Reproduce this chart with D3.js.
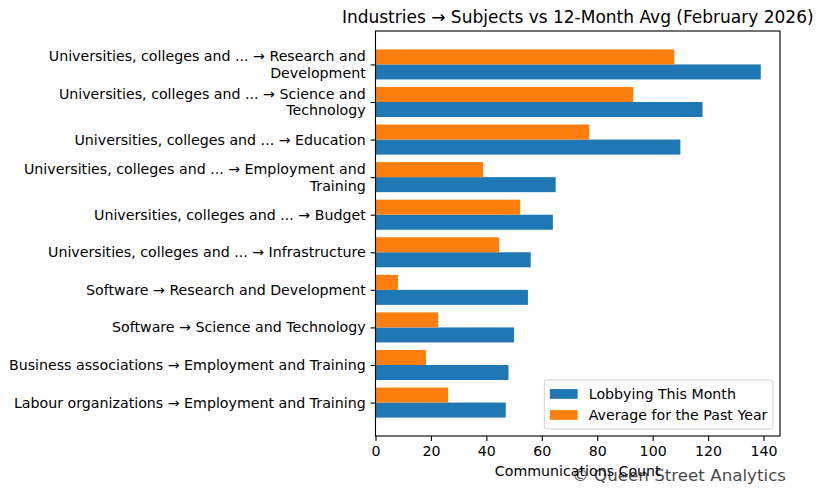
<!DOCTYPE html>
<html>
<head>
<meta charset="utf-8">
<script src="https://cdn.jsdelivr.net/npm/d3@7"></script>
<style>
  body { margin: 0; background: #fff; }
  text { font-family: "DejaVu Sans", sans-serif; }
</style>
</head>
<body>
<div id="chart"></div>
<script>
// Data
const categories = [
    'Universities, colleges and ... → Research and\nDevelopment',
    'Universities, colleges and ... → Science and\nTechnology',
    'Universities, colleges and ... → Education',
    'Universities, colleges and ... → Employment and\nTraining',
    'Universities, colleges and ... → Budget',
    'Universities, colleges and ... → Infrastructure',
    'Software → Research and Development',
    'Software → Science and Technology',
    'Business associations → Employment and Training',
    'Labour organizations → Employment and Training'
];
const thisMonth = [139, 118, 110, 65, 64, 56, 55, 50, 48, 47];
const pastYear = [107.8, 93.0, 77.1, 38.8, 52.2, 44.6, 8.1, 22.6, 18.2, 26.2];
const xTicks = [0, 20, 40, 60, 80, 100, 120, 140];
const seriesNames = ['Lobbying This Month', 'Average for the Past Year'];
const colors = ['#1f77b4', '#ff7f0e'];

const width = 823, height = 496;
const margin = { top: 31, right: 43, bottom: 60, left: 375.5 };
const fs = 14.2;

const svg = d3.select('#chart').append('svg')
    .attr('width', width)
    .attr('height', height);

const plotW = width - margin.left - margin.right;
const plotH = height - margin.top - margin.bottom;

const g = svg.append('g')
    .attr('transform', `translate(${margin.left},${margin.top})`);

// x domain with matplotlib-style 5% margin
const xMax = d3.max(thisMonth.concat(pastYear)) * 1.05;
const x = d3.scaleLinear().domain([0, xMax]).range([0, plotW]);

// bars span i-0.4 .. i+0.4, plus 5% margin
const n = categories.length;
const span = (n - 1) + 0.8;
const y = d3.scaleLinear()
    .domain([-0.4 - span * 0.05, (n - 1) + 0.4 + span * 0.05])
    .range([0, plotH]);

const barH = y(0.4) - y(0);

// Blue: this month (below tick)
g.selectAll('.bar-month')
    .data(thisMonth)
    .enter().append('rect')
    .attr('class', 'bar-month')
    .attr('x', x(0))
    .attr('y', (d, i) => y(i))
    .attr('width', d => x(d) - x(0))
    .attr('height', barH)
    .attr('fill', colors[0]);

// Orange: past year average (above tick)
g.selectAll('.bar-year')
    .data(pastYear)
    .enter().append('rect')
    .attr('class', 'bar-year')
    .attr('x', x(0))
    .attr('y', (d, i) => y(i - 0.4))
    .attr('width', d => x(d) - x(0))
    .attr('height', barH)
    .attr('fill', colors[1]);

// Axes
const xAxis = g.append('g')
    .attr('transform', `translate(0,${plotH})`)
    .call(d3.axisBottom(x).tickValues(xTicks).tickSize(4.9).tickPadding(4.9).tickFormat(d3.format('d')));

const yAxis = g.append('g')
    .call(d3.axisLeft(y).tickValues(d3.range(n)).tickSize(4.9).tickPadding(4.9).tickFormat(i => categories[i]));

[xAxis, yAxis].forEach(ax => {
    ax.select('.domain').remove();
    ax.selectAll('line').attr('stroke', '#000').attr('stroke-width', 1.1);
    ax.selectAll('text').attr('fill', '#000').style('font-size', fs + 'px').style('font-family', '"DejaVu Sans", sans-serif');
});

// Split multi-line tick labels
yAxis.selectAll('text').each(function (i) {
    const lines = categories[i].split('\n');
    if (lines.length < 2) return;
    const t = d3.select(this);
    const xPos = t.attr('x');
    t.text(null).attr('dy', null);
    const lh = 16.8;
    lines.forEach((line, k) => {
        t.append('tspan')
            .attr('x', xPos)
            .attr('y', (k - (lines.length - 1) / 2) * lh)
            .attr('dy', '0.32em')
            .text(line);
    });
});

// Spines
g.append('rect')
    .attr('width', plotW)
    .attr('height', plotH)
    .attr('fill', 'none')
    .attr('stroke', '#000')
    .attr('stroke-width', 1.1);

// Title
svg.append('text')
    .attr('x', margin.left + plotW / 2)
    .attr('y', 23)
    .attr('text-anchor', 'middle')
    .style('font-size', '17px')
    .text('Industries → Subjects vs 12-Month Avg (February 2026)');

// X label
svg.append('text')
    .attr('x', margin.left + plotW / 2)
    .attr('y', 476)
    .attr('text-anchor', 'middle')
    .style('font-size', fs + 'px')
    .text('Communications Count');

// Watermark (overlaps the axis label, as in the original)
svg.append('text')
    .attr('x', 786)
    .attr('y', 481)
    .attr('text-anchor', 'end')
    .attr('fill', '#000')
    .attr('opacity', 0.72)
    .style('font-size', '16.7px')
    .text('© Queen Street Analytics');

// Legend (lower right)
const legend = g.append('g');
const legendItems = legend.selectAll('.legend-item')
    .data(seriesNames)
    .enter().append('g')
    .attr('class', 'legend-item');

const texts = legendItems.append('text')
    .style('font-size', fs + 'px')
    .attr('dy', '0.35em')
    .text(d => d);

const textW = d3.max(texts.nodes(), nd => nd.getComputedTextLength());
const pad = 0.4 * 13.9, handleW = 2 * 13.9, handleGap = 0.8 * 13.9, rowH = 21;
const boxW = pad + handleW + handleGap + textW + pad;
const boxH = pad * 2 + rowH * 2 - 4;
const boxRight = plotW - 7;
const boxBottom = plotH - 7;
const boxLeft = boxRight - boxW;
const boxTop = boxBottom - boxH;

legend.insert('rect', ':first-child')
    .attr('x', boxLeft)
    .attr('y', boxTop)
    .attr('width', boxW)
    .attr('height', boxH)
    .attr('rx', 3)
    .attr('fill', 'rgba(255,255,255,0.8)')
    .attr('stroke', '#d0d0d0')
    .attr('stroke-width', 1);

legendItems.attr('transform', (d, i) => `translate(${boxLeft + pad},${boxTop + pad + 8.5 + i * rowH})`);
legendItems.insert('rect', 'text')
    .attr('x', 0)
    .attr('y', -0.35 * 13.9)
    .attr('width', handleW)
    .attr('height', 0.7 * 13.9)
    .attr('fill', (d, i) => colors[i]);
texts.attr('x', handleW + handleGap);
</script>
</body>
</html>
